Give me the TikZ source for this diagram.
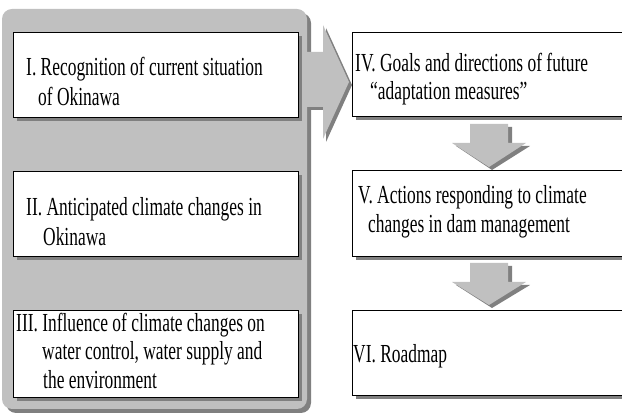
\documentclass[tikz,border=0pt]{standalone}
\usepackage{fontspec}
\setmainfont[FakeStretch=0.67]{Liberation Serif}
\usetikzlibrary{shadows}
\definecolor{panelgray}{HTML}{C0C0C0}
\definecolor{shadowgray}{HTML}{808080}
\tikzset{
  boxnode/.style={draw=black, line width=0.9pt, fill=white, inner sep=0pt,
    general shadow={fill=shadowgray, shadow xshift=4pt, shadow yshift=-4pt}},
  txt/.style={anchor=base west, inner sep=0pt, font=\fontsize{26}{30}\selectfont},
  blockarrow/.style={fill=panelgray, draw=none},
  blockshadow/.style={fill=shadowgray, draw=none}
}
\begin{document}
\begin{tikzpicture}[x=1pt, y=-1pt]
\useasboundingbox (0,0) rectangle (622,419);
\clip (0,0) rectangle (622,419);
\fill[white] (0,0) rectangle (622,419);
% left panel
\fill[shadowgray, rounded corners=10pt] (6,13) rectangle (311,413);
\fill[panelgray, rounded corners=10pt] (2,9) rectangle (307,409);
% big right arrow
\fill[blockshadow] (308,55) -- (326,55) -- (326,28) -- (352,85) -- (326,142) -- (326,110) -- (308,110) -- cycle;
\fill[blockarrow] (305,52) -- (323,52) -- (323,25) -- (349,82) -- (323,139) -- (323,107) -- (305,107) -- cycle;
% left boxes
\node[boxnode, minimum width=285pt, minimum height=85pt] (b1) at (155.5,74.5) {};
\node[boxnode, minimum width=285pt, minimum height=85pt] (b2) at (155.5,213.5) {};
\node[boxnode, minimum width=285pt, minimum height=87pt] (b3) at (155.5,353.5) {};
% right boxes
\node[boxnode, minimum width=278pt, minimum height=84pt] (b4) at (491,74) {};
\node[boxnode, minimum width=278pt, minimum height=86pt] (b5) at (491,213) {};
\node[boxnode, minimum width=278pt, minimum height=85pt] (b6) at (491,352.5) {};
% down arrows
\fill[blockshadow] (474,127) -- (512,127) -- (512,146) -- (530,146) -- (492,170) -- (456,146) -- (474,146) -- cycle;
\fill[blockarrow] (470,124) -- (508,124) -- (508,143) -- (526,143) -- (489,167) -- (452,143) -- (470,143) -- cycle;
\fill[blockshadow] (474,266) -- (512,266) -- (512,285) -- (530,285) -- (492,308) -- (456,285) -- (474,285) -- cycle;
\fill[blockarrow] (470,263) -- (508,263) -- (508,282) -- (526,282) -- (489,305) -- (452,282) -- (470,282) -- cycle;
% texts
\node[txt] (t1a) at (26,76) {I. Recognition of current situation};
\node[txt] (t1b) at (38,106) {of Okinawa};
\node[txt] (t2a) at (26,216) {II. Anticipated climate changes in};
\node[txt] (t2b) at (43,246) {Okinawa};
\node[txt] (t3a) at (16,332) {III. Influence of climate changes on};
\node[txt] (t3b) at (42,360) {water control, water supply and};
\node[txt] (t3c) at (43,389) {the environment};
\node[txt] (t4a) at (355,72) {IV. Goals and directions of future};
\node[txt] (t4b) at (370,100) {“adaptation measures”};
\node[txt] (t5a) at (358,204) {V. Actions responding to climate};
\node[txt] (t5b) at (368,233) {changes in dam management};
\node[txt] (t6a) at (353,363) {VI. Roadmap};
\end{tikzpicture}
\end{document}
